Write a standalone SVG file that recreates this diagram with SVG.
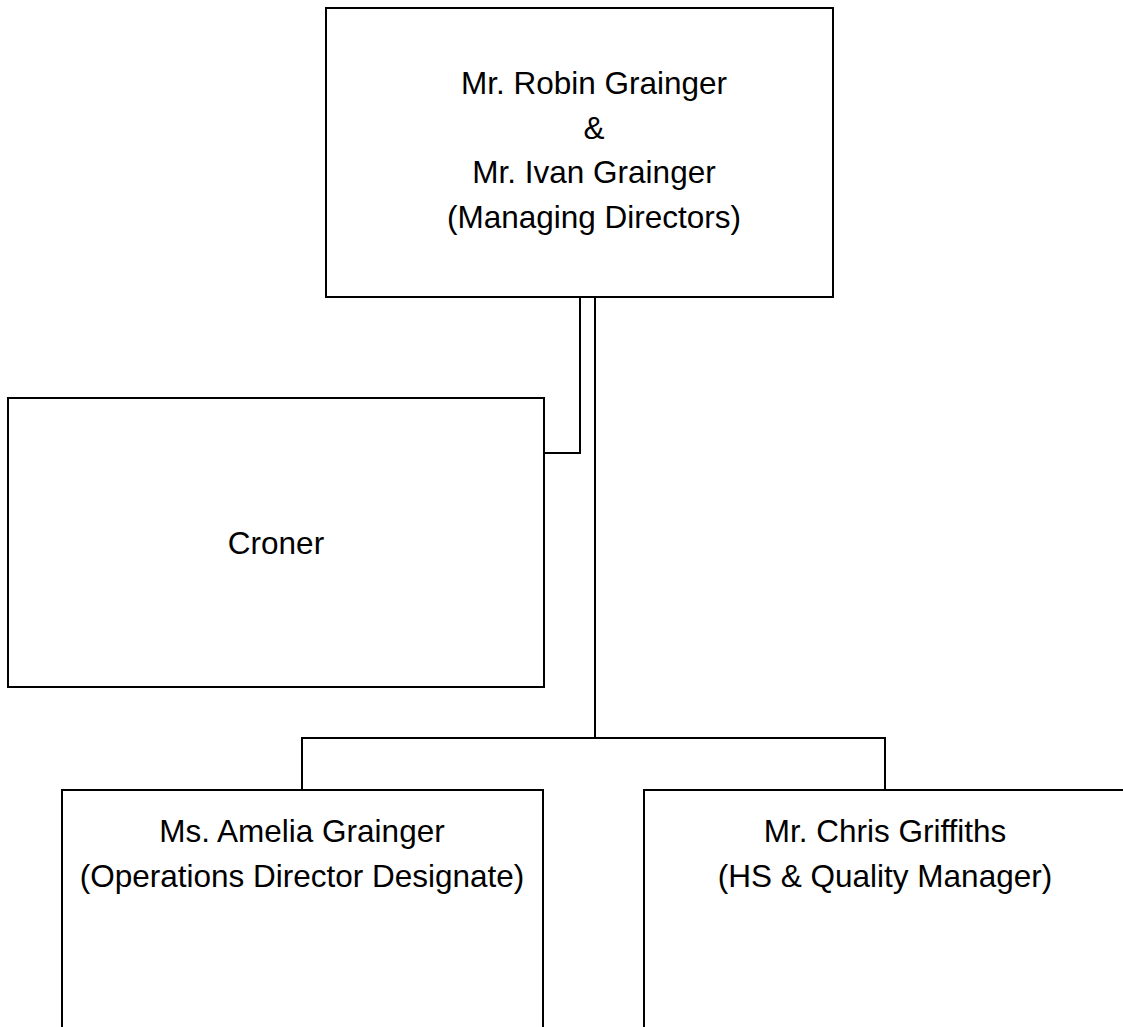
<svg xmlns="http://www.w3.org/2000/svg" width="1123" height="1027" viewBox="0 0 1123 1027">
<style>
.box{fill:#fff;stroke:#000;stroke-width:2}
.c{fill:none;stroke:#000;stroke-width:2}
text{font-family:"Liberation Sans",Arial,sans-serif;font-size:31.5px;fill:#000;text-anchor:middle}
</style>
<rect width="1123" height="1027" fill="#fff"/>
<g id="connectors">
<polyline class="c" points="580,297 580,453 544,453"/>
<line class="c" x1="595" y1="297" x2="595" y2="738"/>
<polyline class="c" points="302,790 302,738 885,738 885,790"/>
</g>
<g id="directors">
<rect class="box" x="326" y="8" width="507" height="289"/>
<text x="594" y="94">Mr. Robin Grainger</text>
<text x="594" y="139">&amp;</text>
<text x="594" y="183">Mr. Ivan Grainger</text>
<text x="594" y="228">(Managing Directors)</text>
</g>
<g id="croner">
<rect class="box" x="8" y="398" width="536" height="289"/>
<text x="276" y="554">Croner</text>
</g>
<g id="amelia">
<rect class="box" x="62" y="790" width="481" height="260"/>
<text x="302" y="842">Ms. Amelia Grainger</text>
<text x="302" y="887">(Operations Director Designate)</text>
</g>
<g id="chris">
<rect class="box" x="644" y="790" width="500" height="260"/>
<text x="885" y="842">Mr. Chris Griffiths</text>
<text x="885" y="887">(HS &amp; Quality Manager)</text>
</g>
</svg>
